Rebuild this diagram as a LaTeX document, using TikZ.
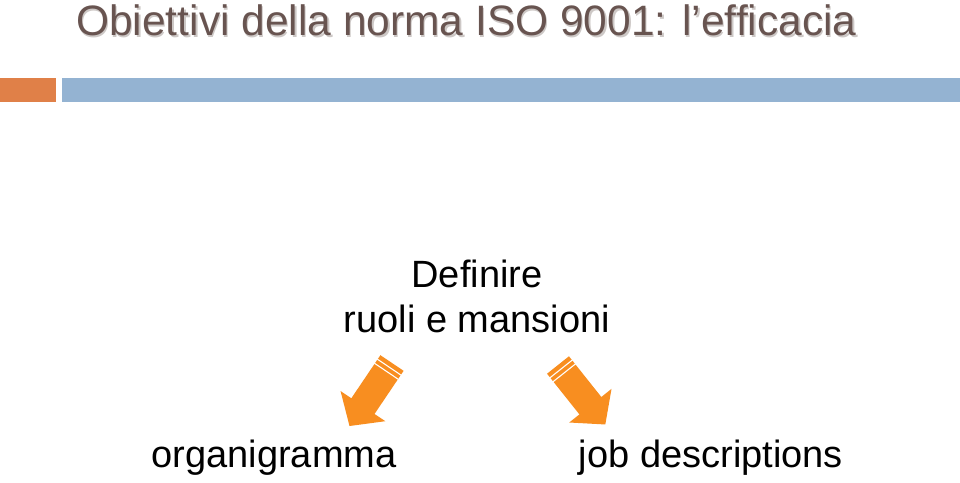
\documentclass[tikz,border=0pt]{standalone}
\usepackage{fontspec}
\setmainfont{Liberation Sans}
\definecolor{titlecol}{RGB}{104,84,80}
\definecolor{shadowcol}{RGB}{205,200,198}
\definecolor{barorange}{RGB}{224,128,72}
\definecolor{barblue}{RGB}{148,179,210}
\definecolor{arroworange}{RGB}{248,142,32}
\tikzset{
  titletext/.style={inner sep=0pt, anchor=base west, text=titlecol, font=\fontsize{42.5}{50}\selectfont},
  bodytext/.style={inner sep=0pt, text=black, font=\fontsize{38}{45}\selectfont},
  fatarrow/.style={fill=arroworange, draw=none},
  stripe/.style={draw=white, line width=1.1pt}
}
\newcommand{\stripedarrow}{%
  \fill[fatarrow] (0,-14) -- (52,-14) -- (52,-27) -- (76,0) -- (52,27) -- (52,14) -- (0,14) -- cycle;
  \draw[stripe] (5,-14.5) -- (5,14.5);
  \draw[stripe] (10,-14.5) -- (10,14.5);
}
\begin{document}
\begin{tikzpicture}[x=1pt,y=-1pt]
  \useasboundingbox (0,0) rectangle (960,482);
  \fill[white] (0,0) rectangle (960,482);
  % title with soft shadow
  \node[titletext, text=shadowcol] (titleshadow) at (77.5,37) {Obiettivi della norma ISO 9001: l’efficacia};
  \node[titletext] (title) at (76,35.5) {Obiettivi della norma ISO 9001: l’efficacia};
  % bars
  \fill[barorange] (0,78) rectangle (56,102);
  \fill[barblue] (62,78) rectangle (960,102);
  % central text
  \node[bodytext, align=center, anchor=base] (central) at (477,332) {Definire\\ruoli e mansioni};
  % arrows
  \begin{scope}[shift={(392,363)}, rotate=236]
    \stripedarrow
  \end{scope}
  \begin{scope}[shift={(558,365)}, rotate=308.5]
    \stripedarrow
  \end{scope}
  % targets
  \node[bodytext, anchor=base] (organigramma) at (274,467) {organigramma};
  \node[bodytext, anchor=base] (jobdesc) at (711,467) {job descriptions};
\end{tikzpicture}
\end{document}
